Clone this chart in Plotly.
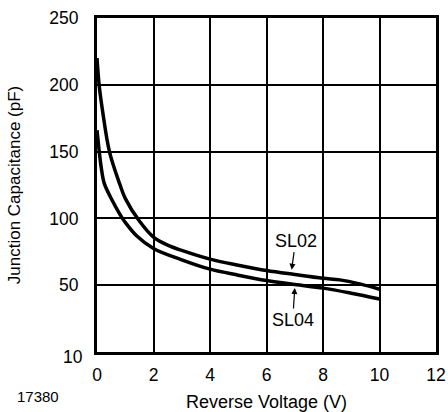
import plotly.graph_objects as go

# Data
sl02_v = [0, 0.08, 0.2, 0.44, 0.8, 1.0, 1.5, 2.0, 2.5, 3.0, 4.0, 5.0, 6.0, 7.0, 8.0, 8.6, 9.3, 10.0]
sl02_c = [220, 199, 180, 150, 126, 115, 98, 86, 80, 76, 69.5, 65, 61, 58, 55.2, 54, 51, 47]

sl04_v = [0, 0.08, 0.15, 0.26, 0.55, 0.73, 0.9, 1.0, 1.4, 2.0, 3.0, 4.0, 5.0, 6.0, 7.0, 8.0, 9.0, 10.0]
sl04_c = [166, 150, 138, 126, 113, 106, 100, 97, 87, 77.5, 69, 62, 57.5, 53.5, 50.5, 47.8, 44, 39.7]

x_ticks = [0, 2, 4, 6, 8, 10, 12]
y_tickvals = [0, 50, 100, 150, 200, 250]
y_ticktext = ["", "50", "100", "150", "200", "250"]
y_bottom_label = "10"

FONT = "Liberation Sans, Arial, Helvetica, sans-serif"

fig = go.Figure()
fig.add_trace(go.Scatter(x=sl02_v, y=sl02_c, mode="lines", name="SL02",
                         line=dict(color="black", width=3.5, shape="spline", smoothing=1.0)))
fig.add_trace(go.Scatter(x=sl04_v, y=sl04_c, mode="lines", name="SL04",
                         line=dict(color="black", width=3.5, shape="spline", smoothing=1.0)))

fig.add_annotation(x=6.89, y=61.6, xref="x", yref="y", text="SL02", showarrow=True,
                   ax=4, ay=-29, arrowhead=2, arrowsize=1, arrowwidth=1.2, arrowcolor="black",
                   font=dict(family=FONT, size=18, color="black"))
fig.add_annotation(x=7.0, y=47.9, xref="x", yref="y", text="SL04", showarrow=True,
                   ax=-2, ay=32, arrowhead=2, arrowsize=1, arrowwidth=1.2, arrowcolor="black",
                   font=dict(family=FONT, size=18, color="black"))
fig.add_annotation(x=0, y=y_tickvals[0], xref="paper", yref="y", text=y_bottom_label,
                   showarrow=False, xanchor="right", yanchor="middle", xshift=-12, yshift=-5,
                   font=dict(family=FONT, size=17.5, color="black"))
fig.add_annotation(x=-0.174, y=-0.133, xref="paper", yref="paper", text="17380", showarrow=False,
                   xanchor="center", yanchor="middle",
                   font=dict(family=FONT, size=15, color="black"))

fig.update_layout(
    width=448, height=412,
    margin=dict(l=97, r=11.5, t=17.5, b=59.5, autoexpand=False),
    paper_bgcolor="white", plot_bgcolor="white",
    showlegend=False,
    font=dict(family=FONT, size=17.5, color="black"),
)
fig.update_xaxes(range=[0, 12], tickvals=x_ticks, showgrid=True, gridcolor="black", gridwidth=1.5,
                 showline=True, linecolor="black", linewidth=3, mirror=True, zeroline=False,
                 ticks="", ticklabelstandoff=5,
                 title=dict(text="Reverse Voltage (V)", font=dict(size=18), standoff=12))
fig.update_yaxes(range=[0, 250], tickvals=y_tickvals, ticktext=y_ticktext, showgrid=True,
                 gridcolor="black", gridwidth=1.5,
                 showline=True, linecolor="black", linewidth=3, mirror=True, zeroline=False,
                 ticks="", ticklabelstandoff=12,
                 title=dict(text="Junction Capacitance (pF)", font=dict(size=17), standoff=25))

fig.write_html("out.html", config={"displayModeBar": False},
               post_script="document.body.style.margin='0';document.body.style.overflow='hidden';")
